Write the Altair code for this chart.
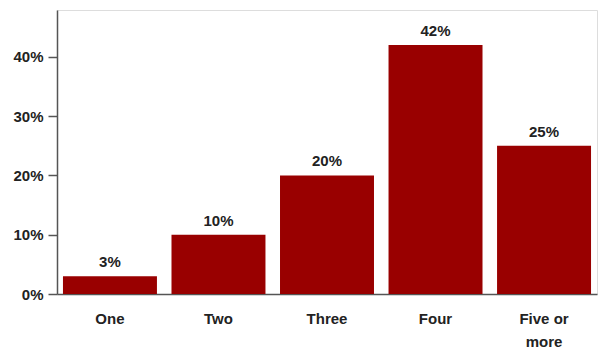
import altair as alt
import pandas as pd

# Number of items per respondent and share of respondents
categories = ["One", "Two", "Three", "Four", "Five or more"]
shares = [3, 10, 20, 42, 25]
labels = ["3%", "10%", "20%", "42%", "25%"]

df = pd.DataFrame({"category": categories, "share": [s / 100 for s in shares], "label": labels})

font = "Liberation Sans"

x = alt.X(
    "category:N",
    sort=categories,
    scale=alt.Scale(paddingInner=0.134, paddingOuter=0.055),
    axis=alt.Axis(
        title=None,
        ticks=False,
        labelAngle=0,
        labelPadding=17,
        labelFont=font,
        labelFontSize=15,
        labelFontWeight="bold",
        labelColor="#222222",
        labelLineHeight=23,
        labelExpr="datum.label == 'Five or more' ? ['Five or', 'more'] : datum.label",
        domainColor="#555555",
        domainWidth=1.5,
    ),
)

y = alt.Y(
    "share:Q",
    scale=alt.Scale(domain=[0, 0.479], nice=False),
    axis=alt.Axis(
        title=None,
        values=[0, 0.1, 0.2, 0.3, 0.4],
        format=".0%",
        grid=False,
        tickSize=9,
        tickColor="#555555",
        tickWidth=1.5,
        labelPadding=5,
        labelFont=font,
        labelFontSize=15,
        labelFontWeight="bold",
        labelColor="#222222",
        domainColor="#555555",
        domainWidth=1.5,
    ),
)

bars = alt.Chart(df).mark_bar(color="#990000").encode(x=x, y=y)

text = alt.Chart(df).mark_text(
    dy=-14, font=font, fontSize=15, fontWeight="bold", color="#222222"
).encode(x=alt.X("category:N", sort=categories), y="share:Q", text="label:N")

chart = (
    alt.layer(bars, text)
    .properties(
        width=540,
        height=284,
        autosize=alt.AutoSizeParams(type="none"),
        padding={"left": 57, "top": 10, "right": 2, "bottom": 69},
    )
    .configure_view(stroke=None)
    .configure(background="white")
)

chart.save("out.html", embed_options={"renderer": "svg", "actions": False})
